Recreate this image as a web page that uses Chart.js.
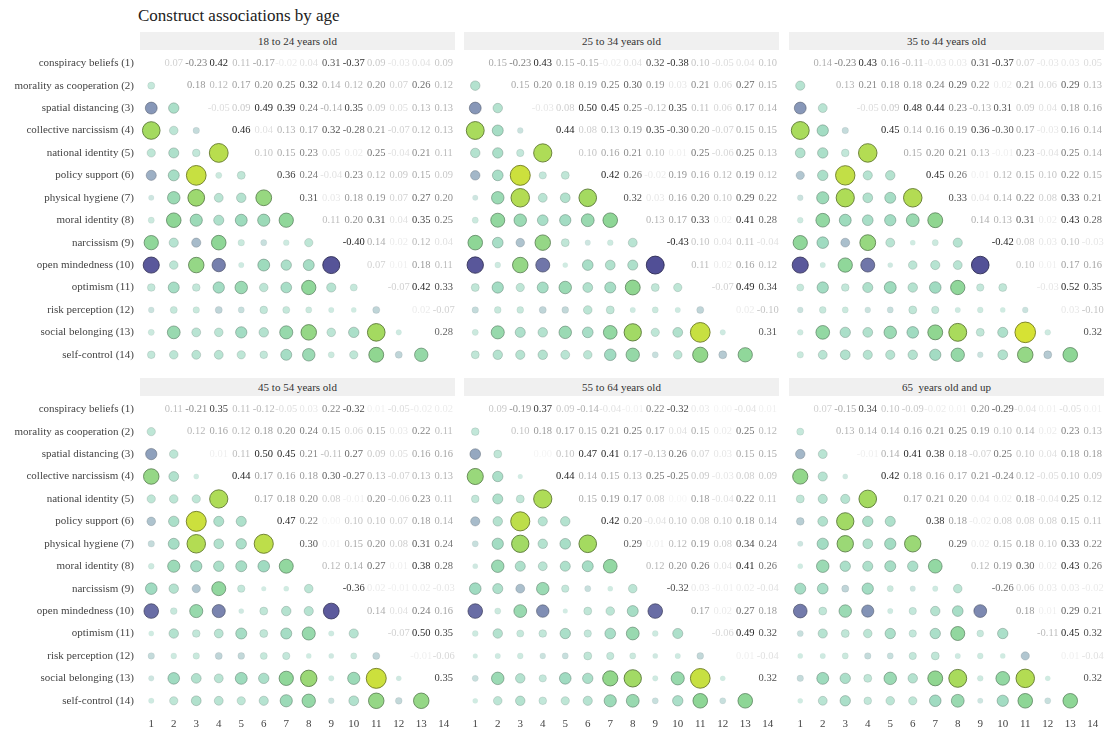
<!DOCTYPE html>
<html>
<head>
<meta charset="utf-8">
<script src="https://cdn.jsdelivr.net/npm/chart.js@4.4.1/dist/chart.umd.min.js"></script>
<style>
  body { margin: 0; background: #fff; font-family: "Liberation Serif", serif; }
  #wrap { position: relative; width: 1115px; height: 731px; overflow: hidden; }
  canvas { position: absolute; }
  .strip { position: absolute; height: 18px; background: #f0f0f0; color: #333; font-size: 11px;
           line-height: 18px; text-align: center; white-space: pre; }
  #title { position: absolute; left: 138px; top: 6px; font-size: 17px; color: #222; }
</style>
</head>
<body>
<div id="wrap"><div id="title">Construct associations by age</div></div>
<script>
var constructs = ['conspiracy beliefs (1)', 'morality as cooperation (2)', 'spatial distancing (3)',
  'collective narcissism (4)', 'national identity (5)', 'policy support (6)', 'physical hygiene (7)',
  'moral identity (8)', 'narcissism (9)', 'open mindedness (10)', 'optimism (11)',
  'risk perception (12)', 'social belonging (13)', 'self-control (14)'];
var colTicks = ['1','2','3','4','5','6','7','8','9','10','11','12','13','14'];
var ageGroups = ['18 to 24 years old', '25 to 34 years old', '35 to 44 years old',
  '45 to 54 years old', '55 to 64 years old', '65  years old and up'];

// upper triangle, row i holds the correlations with constructs i+1..14
var r18_24 = [
  [0.07,-0.23,0.42,0.11,-0.17,-0.02,0.04,0.31,-0.37,0.09,-0.03,0.04,0.09],
  [0.18,0.12,0.17,0.20,0.25,0.32,0.14,0.12,0.20,0.07,0.26,0.12],
  [-0.05,0.09,0.49,0.39,0.24,-0.14,0.35,0.09,0.05,0.13,0.13],
  [0.46,0.04,0.13,0.17,0.32,-0.28,0.21,-0.07,0.12,0.13],
  [0.10,0.15,0.23,0.05,0.02,0.25,-0.04,0.21,0.11],
  [0.36,0.24,-0.04,0.23,0.12,0.09,0.15,0.09],
  [0.31,0.03,0.18,0.19,0.07,0.27,0.20],
  [0.11,0.20,0.31,0.04,0.35,0.25],
  [-0.40,0.14,0.02,0.12,0.04],
  [0.07,0.01,0.18,0.11],
  [-0.07,0.42,0.33],
  [0.02,-0.07],
  [0.28]
];
var r25_34 = [
  [0.15,-0.23,0.43,0.15,-0.15,-0.02,0.04,0.32,-0.38,0.10,-0.05,0.04,0.10],
  [0.15,0.20,0.18,0.19,0.25,0.30,0.19,0.03,0.21,0.06,0.27,0.15],
  [-0.03,0.08,0.50,0.45,0.25,-0.12,0.35,0.11,0.06,0.17,0.14],
  [0.44,0.08,0.13,0.19,0.35,-0.30,0.20,-0.07,0.15,0.15],
  [0.10,0.16,0.21,0.10,0.01,0.25,-0.06,0.25,0.13],
  [0.42,0.26,-0.02,0.19,0.16,0.12,0.19,0.12],
  [0.32,0.03,0.16,0.20,0.10,0.29,0.22],
  [0.13,0.17,0.33,0.02,0.41,0.28],
  [-0.43,0.10,0.04,0.11,-0.04],
  [0.11,0.02,0.16,0.12],
  [-0.07,0.49,0.34],
  [0.02,-0.10],
  [0.31]
];
var r35_44 = [
  [0.14,-0.23,0.43,0.16,-0.11,-0.03,0.03,0.31,-0.37,0.07,-0.03,0.03,0.05],
  [0.13,0.21,0.18,0.18,0.24,0.29,0.22,0.02,0.21,0.06,0.29,0.13],
  [-0.05,0.09,0.48,0.44,0.23,-0.13,0.31,0.09,0.04,0.18,0.16],
  [0.45,0.14,0.16,0.19,0.36,-0.30,0.17,-0.03,0.16,0.14],
  [0.15,0.20,0.21,0.13,-0.01,0.23,-0.04,0.25,0.14],
  [0.45,0.26,0.01,0.12,0.15,0.10,0.22,0.15],
  [0.33,0.04,0.14,0.22,0.08,0.33,0.21],
  [0.14,0.13,0.31,0.02,0.43,0.28],
  [-0.42,0.08,0.03,0.10,-0.03],
  [0.10,0.01,0.17,0.16],
  [-0.03,0.52,0.35],
  [0.03,-0.10],
  [0.32]
];
var r45_54 = [
  [0.11,-0.21,0.35,0.11,-0.12,-0.05,0.03,0.22,-0.32,0.01,-0.05,-0.02,0.02],
  [0.12,0.16,0.12,0.18,0.20,0.24,0.15,0.06,0.15,0.03,0.22,0.11],
  [0.01,0.11,0.50,0.45,0.21,-0.11,0.27,0.09,0.05,0.16,0.16],
  [0.44,0.17,0.16,0.18,0.30,-0.27,0.13,-0.07,0.13,0.13],
  [0.17,0.18,0.20,0.08,-0.01,0.20,-0.06,0.23,0.11],
  [0.47,0.22,0.00,0.10,0.10,0.07,0.18,0.14],
  [0.30,0.01,0.15,0.20,0.08,0.31,0.24],
  [0.12,0.14,0.27,0.01,0.38,0.28],
  [-0.36,0.02,-0.01,0.02,-0.03],
  [0.14,0.04,0.24,0.16],
  [-0.07,0.50,0.35],
  [-0.01,-0.06],
  [0.35]
];
var r55_64 = [
  [0.09,-0.19,0.37,0.09,-0.14,-0.04,-0.01,0.22,-0.32,0.03,0.00,-0.04,0.01],
  [0.10,0.18,0.17,0.15,0.21,0.25,0.17,0.04,0.15,0.02,0.25,0.12],
  [0.00,0.10,0.47,0.41,0.17,-0.13,0.26,0.07,0.03,0.15,0.15],
  [0.44,0.14,0.15,0.13,0.25,-0.25,0.09,-0.03,0.08,0.09],
  [0.15,0.19,0.17,0.08,0.00,0.18,-0.04,0.22,0.11],
  [0.42,0.20,-0.04,0.10,0.08,0.10,0.18,0.14],
  [0.29,0.01,0.12,0.19,0.08,0.34,0.24],
  [0.12,0.20,0.26,0.04,0.41,0.26],
  [-0.32,0.03,-0.01,0.02,-0.04],
  [0.17,0.02,0.27,0.18],
  [-0.06,0.49,0.32],
  [0.01,-0.04],
  [0.32]
];
var r65_up = [
  [0.07,-0.15,0.34,0.10,-0.09,-0.02,0.01,0.20,-0.29,-0.04,0.01,-0.05,0.01],
  [0.13,0.14,0.14,0.16,0.21,0.25,0.19,0.10,0.14,0.02,0.23,0.13],
  [-0.01,0.14,0.41,0.38,0.18,-0.07,0.25,0.10,0.04,0.18,0.18],
  [0.42,0.18,0.16,0.17,0.21,-0.24,0.12,-0.05,0.10,0.09],
  [0.17,0.21,0.20,0.04,0.02,0.18,-0.04,0.25,0.12],
  [0.38,0.18,-0.02,0.08,0.08,0.08,0.15,0.11],
  [0.29,0.02,0.15,0.18,0.10,0.33,0.22],
  [0.12,0.19,0.30,0.02,0.43,0.26],
  [-0.26,0.06,0.03,0.03,-0.02],
  [0.18,0.01,0.29,0.21],
  [-0.11,0.45,0.32],
  [0.01,-0.04],
  [0.32]
];
var panels = [r18_24, r25_34, r35_44, r45_54, r55_64, r65_up];

// colour ramp from negative (indigo) through pale teal to positive (yellow green)
var stops = [
  [-0.45, [78, 76, 148]], [-0.36, [92, 90, 156]], [-0.22, [138, 156, 186]],
  [-0.08, [188, 210, 214]], [0, [210, 235, 227]], [0.12, [188, 229, 213]],
  [0.22, [160, 219, 193]], [0.32, [142, 214, 150]], [0.42, [164, 218, 96]],
  [0.52, [214, 226, 52]]
];
function rampRGB(v) {
  if (v <= stops[0][0]) return stops[0][1];
  for (var i = 1; i < stops.length; i++) {
    if (v <= stops[i][0]) {
      var a = stops[i - 1], b = stops[i], t = (v - a[0]) / (b[0] - a[0]);
      return a[1].map(function (c, k) { return Math.round(c + (b[1][k] - c) * t); });
    }
  }
  return stops[stops.length - 1][1];
}

function bubbleData(up) {
  var pts = [];
  up.forEach(function (row, i) {
    row.forEach(function (v, k) {
      var j = i + k + 1;            // column index of the upper cell
      pts.push({ x: i + 1, y: j + 1, r: 2.5 + 15 * Math.abs(v), v: v });
    });
  });
  return pts;
}

function textPlugin(up) {
  return {
    id: 'valueText',
    afterDatasetsDraw: function (chart) {
      var ctx = chart.ctx, x = chart.scales.x, y = chart.scales.y;
      ctx.save();
      ctx.font = '10.5px "Liberation Serif"';
      ctx.textAlign = 'center';
      ctx.textBaseline = 'middle';
      up.forEach(function (row, i) {
        row.forEach(function (v, k) {
          var a = Math.min(1, 0.05 + Math.abs(v) / 0.42);
          ctx.fillStyle = 'rgba(30,30,30,' + a.toFixed(3) + ')';
          ctx.fillText(v.toFixed(2), x.getPixelForValue(i + k + 2), y.getPixelForValue(i + 1));
        });
      });
      ctx.restore();
    }
  };
}

var wrap = document.getElementById('wrap');
var colLeft = [140, 464, 789];

panels.forEach(function (up, p) {
  var col = p % 3, row = Math.floor(p / 3);
  var showY = col === 0, showX = row === 1;
  var top = row === 0 ? 52 : 398;

  var strip = document.createElement('div');
  strip.className = 'strip';
  strip.style.left = colLeft[col] + 'px';
  strip.style.width = '315px';
  strip.style.top = (top - 20) + 'px';
  strip.textContent = ageGroups[p];
  wrap.appendChild(strip);

  var cv = document.createElement('canvas');
  var w = showY ? 455 : 315, h = showX ? 340 : 314;
  cv.width = w; cv.height = h;
  cv.style.width = w + 'px'; cv.style.height = h + 'px';
  cv.style.left = (showY ? 0 : colLeft[col]) + 'px';
  cv.style.top = top + 'px';
  wrap.appendChild(cv);

  var pts = bubbleData(up);
  new Chart(cv, {
    type: 'bubble',
    data: {
      datasets: [{
        data: pts,
        backgroundColor: pts.map(function (d) { return 'rgb(' + rampRGB(d.v).join(',') + ')'; }),
        borderColor: pts.map(function (d) {
          var c = rampRGB(d.v).map(function (x) { return Math.round(x * 0.55); });
          return 'rgba(' + c.join(',') + ',' + Math.min(0.9, Math.abs(d.v) * 2.2).toFixed(2) + ')';
        }),
        borderWidth: 1,
        clip: false
      }]
    },
    options: {
      responsive: false,
      animation: false,
      events: [],
      devicePixelRatio: 1,
      layout: { padding: 0, autoPadding: false },
      plugins: { legend: { display: false }, tooltip: { enabled: false } },
      scales: {
        x: {
          type: 'linear', min: 0.5, max: 14.5,
          display: showX,
          grid: { display: false, drawTicks: false },
          border: { display: false },
          afterBuildTicks: function (s) { s.ticks = colTicks.map(function (t, i) { return { value: i + 1 }; }); },
          afterFit: function (s) {
            s.height = showX ? 26 : 0;
            s.paddingLeft = 0; s.paddingRight = 0;
          },
          ticks: {
            padding: 6, color: '#444', font: { family: 'Liberation Serif', size: 11 },
            maxRotation: 0, autoSkip: false,
            callback: function (v) { return colTicks[v - 1]; }
          }
        },
        y: {
          type: 'linear', min: 0.5, max: 14.5, reverse: true,
          display: showY,
          grid: { display: false, drawTicks: false },
          border: { display: false },
          afterBuildTicks: function (s) { s.ticks = constructs.map(function (t, i) { return { value: i + 1 }; }); },
          afterFit: function (s) {
            s.width = showY ? 140 : 0;
            s.paddingTop = 0; s.paddingBottom = 0;
          },
          ticks: {
            padding: 6, color: '#444', font: { family: 'Liberation Serif', size: 11 },
            autoSkip: false,
            callback: function (v) { return constructs[v - 1]; }
          }
        }
      }
    },
    plugins: [textPlugin(up)]
  });
});
</script>
</body>
</html>
